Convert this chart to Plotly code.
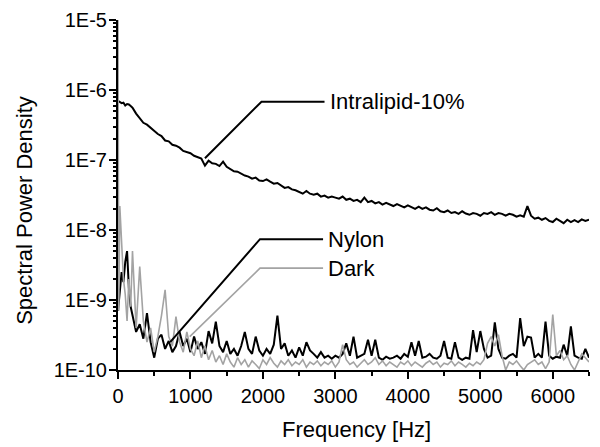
import plotly.graph_objects as go
import math

# ---------------- data ----------------
freq = [0, 10, 25, 50, 75, 100, 125, 150, 175, 200, 250, 300, 350, 400, 450, 500, 550, 600, 650, 700, 750, 800, 850, 900, 950,
        1000, 1050, 1100, 1150, 1200, 1250, 1300, 1350, 1400, 1450, 1500, 1550, 1600, 1650, 1700, 1750, 1800, 1850, 1900, 1950,
        2000, 2050, 2100, 2150, 2200, 2250, 2300, 2350, 2400, 2450, 2500, 2550, 2600, 2650, 2700, 2750, 2800, 2850, 2900, 2950,
        3000, 3050, 3100, 3150, 3200, 3250, 3300, 3350, 3400, 3450, 3500, 3550, 3600, 3650, 3700, 3750, 3800, 3850, 3900, 3950,
        4000, 4050, 4100, 4150, 4200, 4250, 4300, 4350, 4400, 4450, 4500, 4550, 4600, 4650, 4700, 4750, 4800, 4850, 4900, 4950,
        5000, 5050, 5100, 5150, 5200, 5250, 5300, 5350, 5400, 5450, 5500, 5550, 5600, 5650, 5700, 5750, 5800, 5850, 5900, 5950,
        6000, 6050, 6100, 6150, 6200, 6250, 6300, 6350, 6400, 6450, 6500]

intralipid = [7.0e-7, 6.9e-7, 6.7e-7, 6.5e-7, 6.6e-7, 6.0e-7, 6.3e-7, 6.2e-7, 5.9e-7, 5.6e-7, 4.6e-7, 4.0e-7, 3.4e-7, 3.2e-7, 2.9e-7, 2.6e-7, 2.35e-7, 2.2e-7, 1.9e-7, 1.85e-7, 1.65e-7, 1.6e-7, 1.5e-7, 1.35e-7, 1.3e-7,
              1.25e-7, 1.15e-7, 1.1e-7, 1.05e-7, 8.3e-8, 9.8e-8, 9.0e-8, 8.8e-8, 8.2e-8, 9.5e-8, 8.0e-8, 7.4e-8, 6.9e-8, 6.8e-8, 6.3e-8, 6.0e-8, 5.8e-8, 5.4e-8, 5.6e-8, 5.1e-8,
              5.0e-8, 5.3e-8, 4.9e-8, 4.6e-8, 4.7e-8, 4.3e-8, 4.0e-8, 4.1e-8, 3.8e-8, 3.7e-8, 3.5e-8, 3.3e-8, 3.6e-8, 3.3e-8, 3.2e-8, 3.3e-8, 3.0e-8, 3.1e-8, 2.9e-8, 3.0e-8,
              2.9e-8, 2.8e-8, 3.0e-8, 2.7e-8, 2.8e-8, 2.6e-8, 2.7e-8, 2.5e-8, 2.9e-8, 2.5e-8, 2.6e-8, 2.4e-8, 2.5e-8, 2.3e-8, 2.45e-8, 2.3e-8, 2.2e-8, 2.35e-8, 2.2e-8, 2.1e-8,
              2.25e-8, 2.1e-8, 2.0e-8, 2.15e-8, 2.0e-8, 2.1e-8, 1.95e-8, 1.9e-8, 2.05e-8, 1.85e-8, 1.8e-8, 1.9e-8, 1.75e-8, 1.8e-8, 1.7e-8, 1.85e-8, 1.72e-8, 1.65e-8, 1.75e-8, 1.7e-8,
              1.6e-8, 1.75e-8, 1.7e-8, 1.8e-8, 1.65e-8, 1.75e-8, 1.7e-8, 1.6e-8, 1.7e-8, 1.65e-8, 1.55e-8, 1.62e-8, 1.55e-8, 2.2e-8, 1.6e-8, 1.45e-8, 1.5e-8, 1.4e-8, 1.48e-8, 1.35e-8,
              1.3e-8, 1.45e-8, 1.35e-8, 1.25e-8, 1.4e-8, 1.3e-8, 1.38e-8, 1.3e-8, 1.42e-8, 1.35e-8, 1.4e-8]

nylon = [7e-10, 9e-10, 1.5e-9, 2.5e-9, 1.8e-9, 3.5e-9, 5e-9, 1.5e-9, 8e-10, 6e-10, 3.5e-10, 4.5e-10, 2.8e-10, 6.5e-10, 2.5e-10, 1.5e-10, 2.8e-10, 3.2e-10, 2.0e-10, 2.6e-10, 1.8e-10, 2.2e-10, 3.5e-10, 2.2e-10, 2.8e-10,
         1.8e-10, 3.0e-10, 2.0e-10, 2.5e-10, 1.7e-10, 3.6e-10, 2.4e-10, 4.9e-10, 2.2e-10, 1.8e-10, 2.6e-10, 1.7e-10, 2.0e-10, 1.6e-10, 2.2e-10, 3.5e-10, 2.0e-10, 1.7e-10, 3.0e-10, 1.9e-10,
         1.6e-10, 2.0e-10, 1.7e-10, 2.3e-10, 6.0e-10, 2.0e-10, 2.4e-10, 1.6e-10, 1.9e-10, 1.5e-10, 2.1e-10, 1.6e-10, 2.5e-10, 1.9e-10, 1.7e-10, 1.5e-10, 1.8e-10, 1.5e-10, 1.6e-10, 1.45e-10,
         1.6e-10, 1.5e-10, 1.7e-10, 2.4e-10, 1.6e-10, 3.0e-10, 1.5e-10, 1.6e-10, 1.7e-10, 2.7e-10, 1.6e-10, 2.7e-10, 1.5e-10, 1.4e-10, 1.55e-10, 1.45e-10, 1.5e-10, 1.6e-10, 1.45e-10, 1.7e-10,
         1.55e-10, 2.5e-10, 1.6e-10, 2.6e-10, 1.5e-10, 1.55e-10, 1.7e-10, 1.5e-10, 1.45e-10, 1.6e-10, 2.6e-10, 1.5e-10, 1.45e-10, 2.5e-10, 1.5e-10, 1.4e-10, 1.5e-10, 1.45e-10, 3.7e-10, 1.8e-10,
         3.6e-10, 2.0e-10, 1.5e-10, 1.6e-10, 4.8e-10, 2.0e-10, 1.5e-10, 1.45e-10, 1.6e-10, 1.7e-10, 1.5e-10, 5.5e-10, 2.2e-10, 3.0e-10, 2.9e-10, 1.5e-10, 1.7e-10, 1.5e-10, 4.9e-10, 1.6e-10,
         1.45e-10, 1.55e-10, 1.5e-10, 2.3e-10, 1.6e-10, 4.2e-10, 1.6e-10, 1.5e-10, 1.45e-10, 2.0e-10, 1.5e-10]

dark = [1.2e-5, 7e-10, 2.2e-8, 8e-9, 2e-9, 1.2e-9, 5e-10, 2e-9, 8e-10, 5e-9, 4e-10, 3e-9, 5e-10, 2.5e-10, 4e-10, 1.8e-10, 3e-10, 6e-10, 1.4e-9, 3e-10, 2.2e-10, 5.8e-10, 2.5e-10, 1.8e-10, 3.5e-10,
        2.0e-10, 1.6e-10, 2.6e-10, 1.5e-10, 2.2e-10, 1.4e-10, 1.9e-10, 1.3e-10, 1.6e-10, 1.2e-10, 1.7e-10, 1.3e-10, 1.1e-10, 1.5e-10, 1.2e-10, 1.4e-10, 1.1e-10, 1.35e-10, 1.2e-10, 1.05e-10,
        1.4e-10, 1.2e-10, 1.5e-10, 1.25e-10, 1.1e-10, 1.35e-10, 1.2e-10, 1.4e-10, 1.15e-10, 1.3e-10, 1.2e-10, 1.4e-10, 1.1e-10, 1.3e-10, 1.2e-10, 1.35e-10, 1.15e-10, 1.3e-10, 1.2e-10, 1.35e-10,
        1.1e-10, 1.3e-10, 2.3e-10, 1.4e-10, 1.2e-10, 1.3e-10, 1.1e-10, 1.25e-10, 1.4e-10, 1.2e-10, 1.3e-10, 1.5e-10, 1.2e-10, 1.35e-10, 1.15e-10, 1.3e-10, 1.2e-10, 1.1e-10, 1.3e-10, 1.2e-10,
        1.35e-10, 1.15e-10, 1.3e-10, 1.2e-10, 1.1e-10, 1.25e-10, 1.35e-10, 1.2e-10, 1.3e-10, 1.1e-10, 1.25e-10, 1.2e-10, 1.35e-10, 1.15e-10, 1.3e-10, 1.2e-10, 1.1e-10, 1.25e-10, 1.15e-10, 1.3e-10,
        1.2e-10, 1.4e-10, 2.4e-10, 3.0e-10, 2.2e-10, 3.2e-10, 1.6e-10, 1.0e-10, 1.3e-10, 1.2e-10, 1.35e-10, 1.15e-10, 1.0e-10, 1.2e-10, 1.3e-10, 1.4e-10, 1.2e-10, 1.3e-10, 1.05e-10, 1.3e-10,
        6.2e-10, 1.6e-10, 1.9e-10, 1.4e-10, 1.6e-10, 1.2e-10, 1.0e-10, 1.3e-10, 1.7e-10, 1.5e-10, 1.3e-10]

y_tick_vals = [1e-10, 1e-9, 1e-8, 1e-7, 1e-6, 1e-5]
y_tick_text = ["1E-10", "1E-9", "1E-8", "1E-7", "1E-6", "1E-5"]
x_tick_vals = [0, 1000, 2000, 3000, 4000, 5000, 6000]

labels = ["Intralipid-10%", "Nylon", "Dark"]
# leader lines: point on curve -> elbow -> label
leader_x = {"Intralipid-10%": [1200, 1980, 2850], "Nylon": [720, 1960, 2830], "Dark": [990, 1960, 2830]}
leader_y = {"Intralipid-10%": [1.06e-7, 6.8e-7, 6.8e-7], "Nylon": [2.5e-10, 7.4e-9, 7.4e-9], "Dark": [3.0e-10, 2.85e-9, 2.85e-9]}

# ---------------- figure ----------------
FONT = "Liberation Sans, Arial, sans-serif"
BLACK = "#000000"
GRAY = "#a3a3a3"

fig = go.Figure()
fig.add_trace(go.Scatter(x=freq, y=intralipid, mode="lines", line=dict(color=BLACK, width=2), showlegend=False))
fig.add_trace(go.Scatter(x=freq, y=nylon, mode="lines", line=dict(color=BLACK, width=2), showlegend=False))
fig.add_trace(go.Scatter(x=freq, y=dark, mode="lines", line=dict(color=GRAY, width=1.6), showlegend=False))

colors = {"Intralipid-10%": BLACK, "Nylon": BLACK, "Dark": GRAY}
for lab in labels:
    fig.add_trace(go.Scatter(x=leader_x[lab], y=leader_y[lab], mode="lines",
                             line=dict(color=colors[lab], width=2 if lab != "Dark" else 1.6),
                             showlegend=False, hoverinfo="skip"))
    fig.add_annotation(x=leader_x[lab][-1], y=math.log10(leader_y[lab][-1]), xref="x", yref="y",
                       text=lab, showarrow=False, xanchor="left", yanchor="middle", xshift=3,
                       font=dict(family=FONT, size=22, color=BLACK))

# axis titles
fig.add_annotation(text="Frequency [Hz]", xref="paper", yref="paper", x=0.507, y=-0.171,
                   showarrow=False, xanchor="center", yanchor="middle",
                   font=dict(family=FONT, size=22, color=BLACK))
fig.add_annotation(text="Spectral Power Density", xref="paper", yref="paper", x=-0.2, y=0.457,
                   showarrow=False, xanchor="center", yanchor="middle", textangle=-90,
                   font=dict(family=FONT, size=22, color=BLACK))

minor_y = [m * 10.0 ** e for e in range(-10, -5) for m in range(2, 10)]

# invisible anchor trace so the minor-tick axis is drawn
fig.add_trace(go.Scatter(x=[None], y=[None], yaxis="y2", showlegend=False, hoverinfo="skip"))

# the page body has an 8px margin, so the figure is made 8px smaller and its margins shifted
fig.update_layout(
    width=592, height=439,
    margin=dict(l=110, r=11, t=12, b=77),
    paper_bgcolor="white", plot_bgcolor="white",
    font=dict(family=FONT, color=BLACK),
    xaxis=dict(
        range=[0, 6500], tickmode="array", tickvals=x_tick_vals, ticks="outside", ticklen=7, tickwidth=2,
        tickcolor=BLACK, showline=True, linewidth=2, linecolor=BLACK, showgrid=False, zeroline=False,
        automargin=False, tickfont=dict(family=FONT, size=20, color=BLACK),
        minor=dict(ticks="outside", ticklen=4, tickwidth=2, tickcolor=BLACK, dtick=500, showgrid=False),
    ),
    yaxis=dict(
        type="log", range=[-10, -5], tickmode="array", tickvals=y_tick_vals, ticktext=y_tick_text,
        ticks="outside", ticklen=7, tickwidth=2, tickcolor=BLACK, ticklabelstandoff=-2,
        showline=True, linewidth=2, linecolor=BLACK, showgrid=False, zeroline=False, automargin=False,
        tickfont=dict(family=FONT, size=20, color=BLACK),
    ),
    # overlaid axis that only carries the minor log ticks
    yaxis2=dict(type="log", range=[-10, -5], overlaying="y", side="left", anchor="x",
                tickmode="array", tickvals=minor_y, ticks="outside", ticklen=4, tickwidth=1.5, tickcolor=BLACK,
                showline=False, showgrid=False, zeroline=False, automargin=False, showticklabels=False),
)

fig.write_html("out.html")
